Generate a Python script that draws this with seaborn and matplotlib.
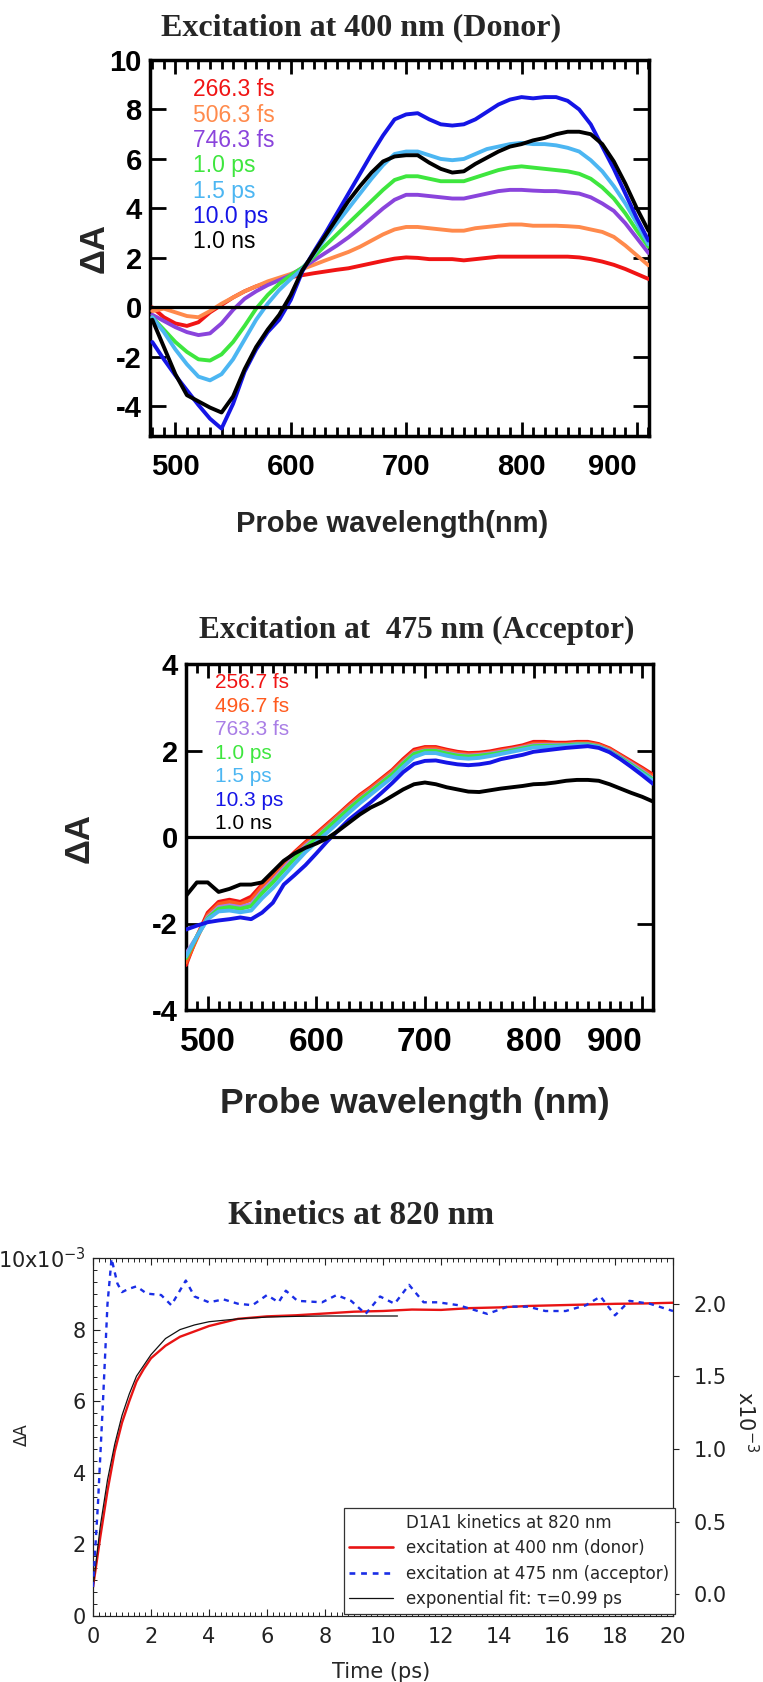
import numpy as np
import pandas as pd
import matplotlib
matplotlib.use("Agg")
import matplotlib.pyplot as plt
import seaborn as sns
from matplotlib.ticker import MultipleLocator, AutoMinorLocator, FixedLocator
from matplotlib.lines import Line2D

# ---------------- data ----------------
wl_400 = list(range(480, 911, 10))
labels_400 = ["266.3 fs", "506.3 fs", "746.3 fs", "1.0 ps", "1.5 ps", "10.0 ps", "1.0 ns"]
red_400 = [0.0, -0.4, -0.65, -0.75, -0.6, -0.2, 0.1, 0.4, 0.65, 0.85, 1.0, 1.12, 1.22, 1.3, 1.38, 1.45, 1.52, 1.58, 1.68, 1.78, 1.88, 1.97, 2.02, 2.0, 1.95, 1.95, 1.95, 1.9, 1.95, 2.0, 2.05, 2.05, 2.05, 2.05, 2.05, 2.05, 2.05, 2.02, 1.95, 1.85, 1.72, 1.55, 1.35, 1.15]
orange_400 = [-0.15, -0.05, -0.2, -0.35, -0.4, -0.15, 0.15, 0.4, 0.65, 0.85, 1.05, 1.2, 1.35, 1.55, 1.72, 1.9, 2.07, 2.24, 2.45, 2.7, 2.95, 3.15, 3.25, 3.25, 3.2, 3.15, 3.1, 3.1, 3.2, 3.25, 3.3, 3.35, 3.35, 3.3, 3.3, 3.3, 3.28, 3.25, 3.15, 3.05, 2.85, 2.5, 2.1, 1.7]
purple_400 = [-0.3, -0.55, -0.8, -1.0, -1.12, -1.05, -0.65, -0.1, 0.35, 0.65, 0.9, 1.1, 1.3, 1.6, 1.9, 2.2, 2.5, 2.83, 3.2, 3.6, 4.0, 4.35, 4.55, 4.55, 4.5, 4.45, 4.4, 4.4, 4.5, 4.6, 4.7, 4.75, 4.75, 4.72, 4.7, 4.7, 4.65, 4.6, 4.45, 4.2, 3.9, 3.4, 2.8, 2.2]
green_400 = [-0.4, -0.9, -1.4, -1.8, -2.1, -2.15, -1.9, -1.4, -0.75, -0.05, 0.5, 0.95, 1.3, 1.6, 2.05, 2.5, 2.95, 3.4, 3.85, 4.3, 4.75, 5.15, 5.3, 5.3, 5.2, 5.1, 5.1, 5.1, 5.25, 5.4, 5.55, 5.65, 5.7, 5.65, 5.6, 5.55, 5.5, 5.4, 5.2, 4.85, 4.4, 3.8, 3.1, 2.45]
lightblue_400 = [-0.4, -1.0, -1.7, -2.3, -2.8, -2.95, -2.7, -2.1, -1.3, -0.5, 0.15, 0.7, 1.15, 1.55, 2.15, 2.8, 3.4, 4.0, 4.6, 5.2, 5.75, 6.2, 6.3, 6.3, 6.15, 6.0, 5.95, 6.0, 6.2, 6.4, 6.5, 6.6, 6.65, 6.6, 6.6, 6.55, 6.45, 6.3, 5.95, 5.5, 4.9, 4.2, 3.4, 2.55]
blue_400 = [-1.4, -2.1, -2.75, -3.35, -3.95, -4.5, -4.9, -3.9, -2.6, -1.7, -1.0, -0.5, 0.3, 1.45, 2.25, 3.0, 3.8, 4.6, 5.4, 6.2, 6.95, 7.6, 7.8, 7.85, 7.6, 7.4, 7.35, 7.4, 7.6, 7.9, 8.2, 8.4, 8.5, 8.45, 8.5, 8.5, 8.35, 8.0, 7.4, 6.5, 5.6, 4.6, 3.6, 2.7]
black_400 = [-0.5, -1.6, -2.7, -3.55, -3.8, -4.05, -4.25, -3.6, -2.5, -1.6, -0.9, -0.3, 0.5, 1.5, 2.2, 2.9, 3.6, 4.3, 4.9, 5.45, 5.9, 6.1, 6.15, 6.15, 5.85, 5.6, 5.45, 5.5, 5.8, 6.05, 6.3, 6.5, 6.6, 6.75, 6.85, 7.0, 7.1, 7.1, 7.0, 6.6, 5.9, 5.0, 4.0, 3.1]

wl_475 = list(range(480, 911, 10))
labels_475 = ["256.7 fs", "496.7 fs", "763.3 fs", "1.0 ps", "1.5 ps", "10.3 ps", "1.0 ns"]
red_475 = [-2.96, -2.3, -1.75, -1.5, -1.45, -1.5, -1.38, -1.1, -0.86, -0.6, -0.35, -0.12, 0.08, 0.3, 0.52, 0.75, 0.97, 1.15, 1.35, 1.55, 1.8, 2.02, 2.08, 2.08, 2.02, 1.97, 1.94, 1.95, 1.98, 2.03, 2.07, 2.12, 2.2, 2.2, 2.18, 2.18, 2.2, 2.2, 2.15, 2.05, 1.9, 1.75, 1.6, 1.44]
orange_475 = [-2.9, -2.35, -1.8, -1.55, -1.5, -1.55, -1.45, -1.15, -0.9, -0.63, -0.38, -0.15, 0.05, 0.27, 0.5, 0.72, 0.94, 1.12, 1.32, 1.52, 1.76, 1.98, 2.05, 2.05, 1.99, 1.94, 1.91, 1.92, 1.95, 2.0, 2.04, 2.09, 2.16, 2.16, 2.15, 2.15, 2.17, 2.17, 2.13, 2.03, 1.88, 1.72, 1.57, 1.4]
purple_475 = [-2.7, -2.3, -1.85, -1.62, -1.58, -1.62, -1.55, -1.25, -1.0, -0.72, -0.45, -0.2, 0.0, 0.22, 0.45, 0.67, 0.88, 1.07, 1.27, 1.47, 1.72, 1.94, 2.0, 2.0, 1.95, 1.9, 1.88, 1.9, 1.93, 1.97, 2.02, 2.07, 2.12, 2.13, 2.13, 2.13, 2.15, 2.15, 2.1, 2.0, 1.85, 1.7, 1.53, 1.35]
green_475 = [-2.8, -2.3, -1.88, -1.66, -1.62, -1.66, -1.6, -1.3, -1.05, -0.77, -0.5, -0.24, -0.03, 0.2, 0.43, 0.65, 0.86, 1.05, 1.25, 1.45, 1.7, 1.92, 1.99, 1.99, 1.93, 1.88, 1.86, 1.88, 1.91, 1.95, 2.0, 2.05, 2.1, 2.11, 2.11, 2.12, 2.14, 2.14, 2.09, 1.98, 1.83, 1.67, 1.5, 1.33]
lightblue_475 = [-2.76, -2.3, -1.9, -1.72, -1.7, -1.74, -1.7, -1.42, -1.18, -0.9, -0.62, -0.35, -0.12, 0.1, 0.33, 0.56, 0.78, 0.98, 1.18, 1.38, 1.62, 1.85, 1.94, 1.94, 1.88, 1.83, 1.81, 1.83, 1.87, 1.92, 1.97, 2.02, 2.07, 2.08, 2.09, 2.1, 2.12, 2.12, 2.08, 1.97, 1.81, 1.64, 1.47, 1.3]
blue_475 = [-2.14, -2.05, -1.97, -1.93, -1.9, -1.86, -1.9, -1.75, -1.52, -1.1, -0.88, -0.65, -0.38, -0.1, 0.15, 0.4, 0.6, 0.8, 1.02, 1.25, 1.5, 1.69, 1.76, 1.77, 1.72, 1.68, 1.66, 1.68, 1.72, 1.8, 1.85, 1.9, 1.97, 2.0, 2.03, 2.06, 2.08, 2.1, 2.06, 1.96, 1.8, 1.62, 1.43, 1.23]
black_475 = [-1.36, -1.05, -1.05, -1.27, -1.2, -1.1, -1.1, -1.05, -0.8, -0.55, -0.38, -0.25, -0.15, -0.03, 0.14, 0.33, 0.52, 0.68, 0.8, 0.95, 1.1, 1.22, 1.26, 1.22, 1.15, 1.1, 1.05, 1.04, 1.08, 1.12, 1.15, 1.18, 1.22, 1.23, 1.26, 1.3, 1.32, 1.32, 1.3, 1.22, 1.12, 1.02, 0.93, 0.82]

# kinetics at 820 nm (values in units of 1e-3)
t_donor = [0, 0.25, 0.5, 0.75, 1.0, 1.25, 1.5, 1.75, 2.0, 2.5, 3.0, 3.5, 4.0, 4.5, 5.0, 6.0, 7.0, 8.0, 9.0, 10.0, 11.0, 12.0, 13.0, 14.0, 15.0, 16.0, 17.0, 18.0, 19.0, 20.0]
donor = [0.8, 2.2, 3.5, 4.6, 5.4, 6.0, 6.55, 6.9, 7.2, 7.55, 7.8, 7.95, 8.1, 8.2, 8.3, 8.37, 8.4, 8.45, 8.5, 8.52, 8.56, 8.55, 8.6, 8.62, 8.66, 8.68, 8.7, 8.72, 8.73, 8.75]
t_acc = [0, 0.17, 0.34, 0.5, 0.64, 0.84, 1.0, 1.2, 1.5, 1.85, 2.35, 2.7, 3.2, 3.5, 4.0, 4.5, 5.0, 5.5, 6.0, 6.4, 6.65, 7.05, 7.9, 8.4, 8.9, 9.4, 9.9, 10.4, 10.9, 11.4, 11.9, 12.6, 13.6, 14.3, 15.0, 15.6, 16.3, 17.0, 17.5, 18.0, 18.5, 19.2, 20.0]
acceptor = [0.05, 0.62, 1.31, 2.0, 2.31, 2.14, 2.08, 2.1, 2.12, 2.07, 2.06, 1.99, 2.16, 2.05, 2.01, 2.03, 2.0, 1.99, 2.06, 2.01, 2.09, 2.02, 2.01, 2.06, 2.02, 1.93, 2.05, 2.0, 2.13, 2.01, 2.01, 1.99, 1.93, 1.98, 1.98, 1.95, 1.95, 1.99, 2.05, 1.92, 2.02, 2.0, 1.95]
t_fit = [0, 0.25, 0.5, 0.75, 1.0, 1.25, 1.5, 2.0, 2.5, 3.0, 3.5, 4.0, 5.0, 6.0, 7.0, 8.0, 9.0, 10.0, 10.5]
fit = [0.8, 2.5, 3.8, 4.8, 5.6, 6.2, 6.7, 7.3, 7.75, 8.0, 8.13, 8.22, 8.3, 8.35, 8.37, 8.38, 8.38, 8.38, 8.38]
kin_labels = ["excitation at 400 nm (donor)", "excitation at 475 nm (acceptor)", "exponential fit: \u03c4=0.99 ps"]

# ---------------- style ----------------
sns.set_theme(style="ticks")
plt.rcParams['font.family'] = ['Liberation Sans', 'DejaVu Sans']
plt.rcParams['axes.unicode_minus'] = False
plt.rcParams['mathtext.fontset'] = 'dejavusans'
plt.rcParams['axes.axisbelow'] = False

W, H = 763, 1682
fig = plt.figure(figsize=(W / 100, H / 100), dpi=100)


def px_ax(l, t, r, b):
    return fig.add_axes([l / W, 1 - b / H, (r - l) / W, (b - t) / H])


def ftext(x, y, s, **kw):
    return fig.text(x / W, 1 - y / H, s, **kw)


def style_spec(ax, xlim, ylim, yticks, xfs, yfs, xpad, ypad):
    ax.set_xlim(*xlim)
    ax.set_ylim(*ylim)
    ax.set_xticks([500, 600, 700, 800, 900], ["500", "600", "700", "800", "900"])
    ax.set_xticks([v for v in range(480, 911, 10) if v % 100 != 0], minor=True)
    ax.set_yticks(yticks, [str(v) for v in yticks])
    ax.set_yticks([], minor=True)
    ax.tick_params(axis='both', which='both', direction='in', top=True, right=True,
                   bottom=True, left=True, colors='black')
    ax.tick_params(axis='x', which='major', length=10, width=2.0, pad=xpad, labelsize=xfs)
    ax.tick_params(axis='x', which='minor', length=6.5, width=2.0)
    ax.tick_params(axis='y', which='major', length=11.5, width=2.0, pad=ypad, labelsize=yfs)
    for sp in ax.spines.values():
        sp.set_linewidth(2.5)
        sp.set_color('black')
    for lbl in ax.get_xticklabels() + ax.get_yticklabels():
        lbl.set_fontweight('bold')
    ax.get_xticklabels()[-1].set_ha('right')
    ax.set_xlabel('')
    ax.set_ylabel('')
    ax.axhline(0, color='black', lw=2.3, zorder=4)


title_font = dict(family=['Liberation Serif', 'DejaVu Serif'], fontweight='bold',
                  ha='center', va='center')

# ---------------- panel 1 ----------------
ax1 = px_ax(150, 60, 649, 436)
cols1 = ['#f01414', '#ff8a4c', '#8a44dc', '#3ee63e', '#4cb6f2', '#1515e6', '#000000']
series1 = [red_400, orange_400, purple_400, green_400, lightblue_400, blue_400, black_400]
for vals, c in zip(series1, cols1):
    sns.lineplot(x=wl_400, y=vals, ax=ax1, color=c, lw=2.8, zorder=3)
style_spec(ax1, (478, 910.5), (-5.2, 10), [-4, -2, 0, 2, 4, 6, 8, 10], 21, 21, 12, 6)
for i, (lab, c) in enumerate(zip(labels_400, cols1)):
    ftext(193, 90 + 25.3 * i, lab, color=c, fontsize=16.5, ha='left', va='center')
ftext(361, 28, "Excitation at 400 nm (Donor)", fontsize=23, **title_font)
ftext(392, 524, "Probe wavelength(nm)", fontsize=21, fontweight='bold', ha='center', va='center')
ftext(94, 248, "\u0394A", fontsize=25, fontweight='bold', rotation=90, ha='center', va='center')

# ---------------- panel 2 ----------------
ax2 = px_ax(186, 664, 653, 1010)
cols2 = ['#f01414', '#ff5a1e', '#a97ee6', '#3ee63e', '#4cb6f2', '#1515e6', '#000000']
series2 = [red_475, orange_475, purple_475, green_475, lightblue_475, blue_475, black_475]
for vals, c in zip(series2, cols2):
    sns.lineplot(x=wl_475, y=vals, ax=ax2, color=c, lw=2.8, zorder=3)
style_spec(ax2, (480, 910), (-4, 4), [-4, -2, 0, 2, 4], 24, 21, 12, 6)
for i, (lab, c) in enumerate(zip(labels_475, cols2)):
    ftext(215, 683 + 23.4 * i, lab, color=c, fontsize=15, ha='left', va='center')
ftext(417, 630, "Excitation at  475 nm (Acceptor)", fontsize=22.5, **title_font)
ftext(415, 1104, "Probe wavelength (nm)", fontsize=25.5, fontweight='bold', ha='center', va='center')
ftext(79, 838, "\u0394A", fontsize=25, fontweight='bold', rotation=90, ha='center', va='center')

# ---------------- panel 3 ----------------
kfont = ['DejaVu Sans']
ax3 = px_ax(93, 1258, 673, 1616)
sns.lineplot(x=t_donor, y=donor, ax=ax3, color='#e81414', lw=1.7, zorder=3)
sns.lineplot(x=t_fit, y=fit, ax=ax3, color='#111111', lw=0.9, zorder=4)
ax3.set_xlim(0, 20)
ax3.set_ylim(0, 10)
ax3.set_xticks(list(range(0, 21, 2)), [str(v) for v in range(0, 21, 2)])
ax3.xaxis.set_minor_locator(MultipleLocator(0.2))
ax3.set_yticks([0, 2, 4, 6, 8, 10], ['0', '2', '4', '6', '8', '10x10$^{-3}$'])
ax3.yaxis.set_minor_locator(AutoMinorLocator(6))
ax3.tick_params(axis='both', which='both', direction='in', top=True, colors='#222222')
ax3.tick_params(axis='both', which='major', length=5, width=0.8, labelsize=15)
ax3.tick_params(axis='both', which='minor', length=2.8, width=0.7)
ax3.tick_params(axis='x', which='major', pad=8)
ax3.tick_params(axis='y', which='major', pad=5)
for lbl in ax3.get_xticklabels() + ax3.get_yticklabels():
    lbl.set_family(kfont)
for sp in ax3.spines.values():
    sp.set_linewidth(0.8)
    sp.set_color('#222222')
ax3.set_xlabel('')
ax3.set_ylabel('')

ax4 = ax3.twinx()
sns.lineplot(x=t_acc, y=acceptor, ax=ax4, color='#1a2ee6', lw=1.7, linestyle=(0, (2.2, 2.2)), zorder=3)
ax4.set_ylim(-0.15, 2.315)
ax4.set_yticks([0.0, 0.5, 1.0, 1.5, 2.0], ['0.0', '0.5', '1.0', '1.5', '2.0'])
ax4.tick_params(axis='y', which='major', direction='out', length=4, width=0.8, pad=11,
                labelsize=15, colors='#222222')
for lbl in ax4.get_yticklabels():
    lbl.set_family(kfont)
for sp in ax4.spines.values():
    sp.set_linewidth(0.8)
    sp.set_color('#222222')
ax4.set_ylabel('')

handles = [Line2D([], [], color='#e81414', lw=1.9),
           Line2D([], [], color='#1a2ee6', lw=1.9, linestyle=(0, (2.2, 2.2))),
           Line2D([], [], color='#111111', lw=0.9)]
leg = ax4.legend(handles, kin_labels, title="D1A1 kinetics at 820 nm", loc='lower right',
                 bbox_to_anchor=(1.0034, 0.0056), borderaxespad=0, frameon=True, fancybox=False,
                 framealpha=1, edgecolor='#333333', prop={'family': kfont, 'size': 12},
                 title_fontproperties={'family': kfont, 'size': 12},
                 handlelength=2.6, labelspacing=0.45, borderpad=0.35, handletextpad=0.8)
leg.get_frame().set_linewidth(0.9)
leg.set_zorder(10)

ftext(361, 1216, "Kinetics at 820 nm", fontsize=24, **title_font)
ftext(381, 1672, "Time (ps)", fontsize=15, family=kfont, ha='center', va='center')
ftext(22, 1435, "\u0394A", fontsize=12, family=kfont, rotation=90, ha='center', va='center')
ftext(746, 1422, "x10$^{-3}$", fontsize=15, family=kfont, rotation=270, ha='center', va='center')

fig.savefig("out.png", dpi=100)
